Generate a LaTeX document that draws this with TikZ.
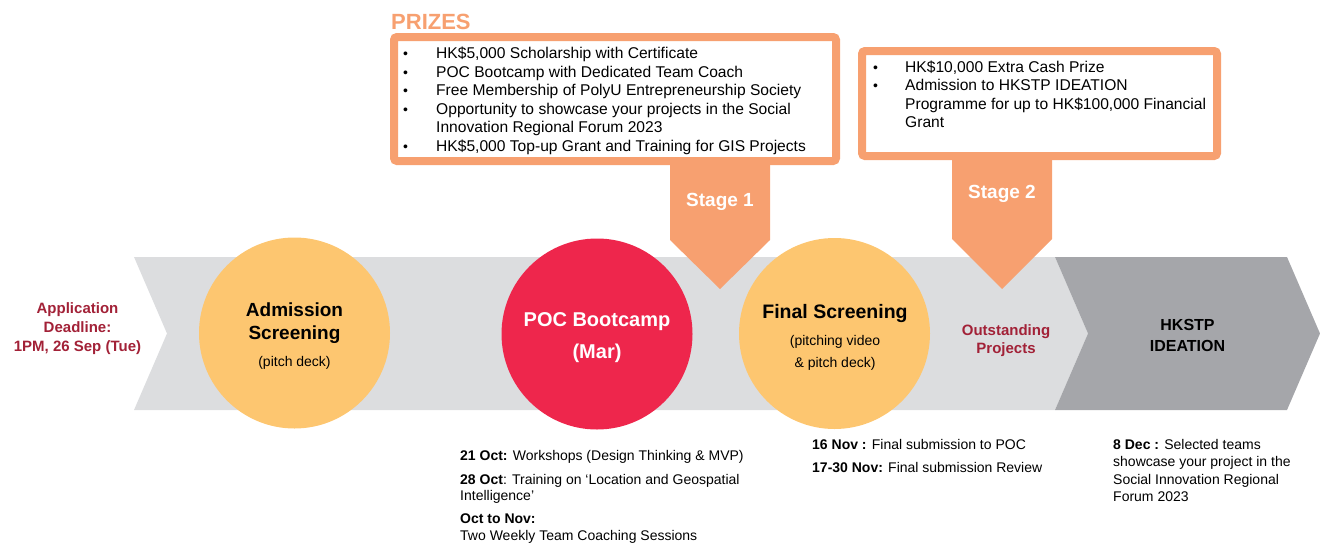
\documentclass[tikz,border=0pt]{standalone}
\usepackage{fontspec}
\setmainfont{Liberation Sans}
\definecolor{orng}{HTML}{F7A070}
\definecolor{yel}{HTML}{FDC670}
\definecolor{redc}{HTML}{EE264C}
\definecolor{dred}{HTML}{A22137}
\definecolor{lgrey}{HTML}{DCDDDF}
\definecolor{dgrey}{HTML}{A5A6AA}
\tikzset{
  txt/.style={inner sep=0pt, anchor=base west, font=\fontsize{14}{17}\selectfont},
  boxtxt/.style={inner sep=0pt, anchor=base west, font=\fontsize{15.6}{18}\selectfont},
  ctxt/.style={inner sep=0pt, anchor=base},
  circ/.style={circle, inner sep=0pt, minimum size=191pt},
  prizebox/.style={draw=orng, line width=8pt, fill=white, rounded corners=3pt},
  stagearrow/.style={fill=orng},
  stagelabel/.style={inner sep=0pt, anchor=base, text=white, font=\bfseries\fontsize{19}{22}\selectfont},
}
\begin{document}
\begin{tikzpicture}[x=1pt,y=-1pt]
\useasboundingbox (0,0) rectangle (1320,544);
% band
\fill[lgrey] (134,257) -- (1055,257) -- (1088,333.5) -- (1055,410) -- (134,410) -- (167,333.5) -- cycle;
\fill[dgrey] (1055,257) -- (1287,257) -- (1320,333.5) -- (1287,410) -- (1055,410) -- (1088,333.5) -- cycle;
% stage arrows
\fill[stagearrow] (670,150) -- (770,150) -- (770,240) -- (720,289) -- (670,240) -- cycle;
\fill[stagearrow] (952,150) -- (1052,150) -- (1052,239) -- (1002,289) -- (952,239) -- cycle;
\node[stagelabel] (s1) at (720,206) {Stage 1};
\node[stagelabel] (s2) at (1002,198) {Stage 2};
% prize boxes
\draw[prizebox] (394,37) rectangle (836,161);
\draw[prizebox] (862,51) rectangle (1217,156);
\node[inner sep=0pt, anchor=base west, text=orng, font=\bfseries\fontsize{22}{24}\selectfont] (prizes) at (391,29) {PRIZES};
\foreach \y/\t [count=\i] in {58/{HK\$5,000 Scholarship with Certificate},
  77/{POC Bootcamp with Dedicated Team Coach},
  95.5/{Free Membership of PolyU Entrepreneurship Society},
  114/{Opportunity to showcase your projects in the Social},
  132.5/{Innovation Regional Forum 2023},
  151/{HK\$5,000 Top-up Grant and Training for GIS Projects}}{
  \node[boxtxt] (p\i) at (436,\y) {\t};
}
\foreach \y [count=\i] in {58,77,95.5,114,151}{
  \node[txt] (pb\i) at (403,\y) {•};
}
\foreach \y/\t [count=\i] in {72.3/{HK\$10,000 Extra Cash Prize},
  90.7/{Admission to HKSTP IDEATION},
  109/{Programme for up to HK\$100,000 Financial},
  127.3/{Grant}}{
  \node[boxtxt] (q\i) at (905,\y) {\t};
}
\foreach \y [count=\i] in {72.3,90.7}{
  \node[txt] (qb\i) at (873,\y) {•};
}
% circles
\node[circ, fill=yel] (adm) at (294.5,333) {};
\node[circ, fill=redc] (poc) at (597,334) {};
\node[circ, fill=yel] (fin) at (834.5,333.5) {};
\node[ctxt, font=\bfseries\fontsize{19}{22}\selectfont] (adm1) at (294.5,316) {Admission};
\node[ctxt, font=\bfseries\fontsize{19}{22}\selectfont] (adm2) at (294.5,339) {Screening};
\node[ctxt, font=\fontsize{14}{17}\selectfont] (adm3) at (294.5,366) {(pitch deck)};
\node[ctxt, text=white, font=\bfseries\fontsize{20}{22}\selectfont] (poc1) at (597,326.5) {POC Bootcamp};
\node[ctxt, text=white, font=\bfseries\fontsize{20}{22}\selectfont] (poc2) at (597,358) {(Mar)};
\node[ctxt, font=\bfseries\fontsize{19.5}{22}\selectfont] (fin1) at (835,318.3) {Final Screening};
\node[ctxt, font=\fontsize{14}{17}\selectfont] (fin2) at (835,345) {(pitching video};
\node[ctxt, font=\fontsize{14}{17}\selectfont] (fin3) at (835,367.5) {\& pitch deck)};
% side labels
\node[ctxt, text=dred, font=\bfseries\fontsize{15}{19}\selectfont] (ad1) at (77.5,313) {Application};
\node[ctxt, text=dred, font=\bfseries\fontsize{15}{19}\selectfont] (ad2) at (77.5,332) {Deadline:};
\node[ctxt, text=dred, font=\bfseries\fontsize{15}{19}\selectfont] (ad3) at (77.5,351) {1PM, 26 Sep (Tue)};
\node[ctxt, text=dred, font=\bfseries\fontsize{15}{19}\selectfont] (out1) at (1006,335) {Outstanding};
\node[ctxt, text=dred, font=\bfseries\fontsize{15}{19}\selectfont] (out2) at (1006,353) {Projects};
\node[ctxt, font=\bfseries\fontsize{16}{19}\selectfont] (hk1) at (1187.5,330.7) {HKSTP};
\node[ctxt, font=\bfseries\fontsize{16}{19}\selectfont] (hk2) at (1187.5,351.7) {IDEATION};
% bottom notes
\node[txt] (n1) at (460,460) {\textbf{21 Oct:} Workshops (Design Thinking \& MVP)};
\node[txt] (n2) at (460,484) {\textbf{28 Oct}: Training on ‘Location and Geospatial};
\node[txt] (n3) at (460,500.5) {Intelligence’};
\node[txt] (n4) at (460,523) {\textbf{Oct to Nov:}};
\node[txt] (n5) at (460,540.5) {Two Weekly Team Coaching Sessions};
\node[txt] (m1) at (812,449.3) {\textbf{16 Nov :} Final submission to POC};
\node[txt] (m2) at (812,472.7) {\textbf{17-30 Nov:} Final submission Review};
\node[txt] (k1) at (1113,449.3) {\textbf{8 Dec :} Selected teams};
\node[txt] (k2) at (1113,466.7) {showcase your project in the};
\node[txt] (k3) at (1113,484) {Social Innovation Regional};
\node[txt] (k4) at (1113,501) {Forum 2023};
\end{tikzpicture}
\end{document}
